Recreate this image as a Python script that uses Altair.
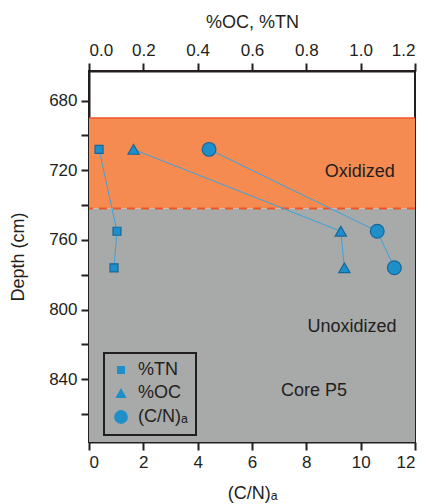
import altair as alt
import pandas as pd

# Sample depths (cm) for core P5
depth = [708, 755, 776]
tn = [0.037, 0.103, 0.092]        # %TN
oc = [0.164, 0.927, 0.940]        # %OC
cn = [4.42, 10.61, 11.24]         # (C/N)a

# Redox zones
zone_top = [690, 742]
zone_bottom = [742, 876]
zone_color = ["#F68B52", "#A8A9A9"]

# Zone annotations, placed on the (C/N)a scale
note_text = ["Oxidized", "Unoxidized", "Core P5"]
note_cn = [9.97, 9.68, 8.28]
note_depth = [721, 810, 847]

series_names = ["%TN", "%OC", "(C/N)ₐ"]
series_shapes = ["square", "triangle-up", "circle"]
series_sizes = [64, 190, 92]

FONT = "Liberation Sans"
FILL = "#1E8FC9"
EDGE = "#17679A"
LINE = "#3BA3DB"

rows = []
for name, vals in zip(series_names, [tn, oc, cn]):
    for d, v in zip(depth, vals):
        rows.append({"series": name, "depth": d, "value": v})
df = pd.DataFrame(rows)

zones = pd.DataFrame({"top": zone_top, "bottom": zone_bottom, "color": zone_color})
notes = pd.DataFrame({"text": note_text, "cn": note_cn, "depth": note_depth})

y_scale = alt.Scale(domain=[663, 876], reverse=True, nice=False, zero=False)
y_axis = alt.Axis(
    title="Depth (cm)",
    values=list(range(680, 861, 20)),
    labelExpr="datum.value % 40 == 0 ? datum.label : ''",
    titlePadding=21,
)

shape_scale = alt.Scale(domain=series_names, range=series_shapes)
size_scale = alt.Scale(domain=series_names, range=series_sizes)
legend = alt.Legend(
    title=None,
    orient="none",
    legendX=15,
    legendY=282,
    fillColor="#A8A9A9",
    strokeColor="#231F20",
    padding=8,
    labelFontSize=18,
    labelFont=FONT,
    labelColor="#231F20",
    labelOffset=8,
    rowPadding=5,
    symbolFillColor=FILL,
    symbolStrokeColor=EDGE,
    symbolStrokeWidth=1.2,
    symbolOpacity=1,
)

# --- upper scale: %OC and %TN -------------------------------------------
top_x_scale = alt.Scale(domain=[0, 1.2], nice=False, zero=False)
top_x_axis = alt.Axis(
    orient="top",
    title="%OC, %TN",
    values=[round(i * 0.1, 1) for i in range(13)],
    format=".1f",
    labelExpr="round(datum.value * 10) % 2 == 0 ? datum.label : ''",
    titlePadding=10,
)

bands = alt.Chart(zones).mark_rect().encode(
    y=alt.Y("top:Q", scale=y_scale, axis=y_axis),
    y2="bottom:Q",
    color=alt.Color("color:N", scale=None),
)
band_edge = alt.Chart(zones.iloc[[0]]).mark_rule(color="#F0552A", strokeWidth=1.5).encode(
    y=alt.Y("top:Q", scale=y_scale)
)
redox_line = alt.Chart(zones.iloc[[0]]).mark_rule(
    color="#F0552A", strokeWidth=2, strokeDash=[8, 6]
).encode(y=alt.Y("bottom:Q", scale=y_scale))

top_data = alt.Chart(df).transform_filter(
    alt.FieldOneOfPredicate(field="series", oneOf=["%TN", "%OC"])
)
top_lines = top_data.mark_line(color=LINE, strokeWidth=1).encode(
    x=alt.X("value:Q", scale=top_x_scale, axis=top_x_axis),
    y=alt.Y("depth:Q", scale=y_scale),
    detail="series:N",
    order="depth:Q",
)
top_points = top_data.mark_point(
    filled=True, fill=FILL, stroke=EDGE, strokeWidth=1.2, opacity=1
).encode(
    x=alt.X("value:Q", scale=top_x_scale),
    y=alt.Y("depth:Q", scale=y_scale),
    shape=alt.Shape("series:N", scale=shape_scale, legend=legend),
    size=alt.Size("series:N", scale=size_scale, legend=legend),
)

upper = alt.layer(bands, band_edge, redox_line, top_lines, top_points)

# --- lower scale: (C/N)a ------------------------------------------------
bottom_x_scale = alt.Scale(domain=[0, 12], nice=False, zero=False)
bottom_x_axis = alt.Axis(
    orient="bottom",
    title="(C/N)ₐ",
    values=list(range(0, 13)),
    labelExpr="datum.value % 2 == 0 ? datum.label : ''",
    titlePadding=14,
)

cn_data = alt.Chart(df).transform_filter(alt.datum.series == "(C/N)ₐ")
cn_line = cn_data.mark_line(color=LINE, strokeWidth=1).encode(
    x=alt.X("value:Q", scale=bottom_x_scale, axis=bottom_x_axis),
    y=alt.Y("depth:Q", scale=y_scale),
    order="depth:Q",
)
cn_points = cn_data.mark_point(
    filled=True, fill=FILL, stroke=EDGE, strokeWidth=1.2, opacity=1
).encode(
    x=alt.X("value:Q", scale=bottom_x_scale),
    y=alt.Y("depth:Q", scale=y_scale),
    shape=alt.Shape("series:N", scale=shape_scale, legend=legend),
    size=alt.Size("series:N", scale=size_scale, legend=legend),
)
cn_notes = alt.Chart(notes).mark_text(
    font=FONT, fontSize=18, color="#231F20", align="center", baseline="middle"
).encode(
    x=alt.X("cn:Q", scale=bottom_x_scale),
    y=alt.Y("depth:Q", scale=y_scale),
    text="text:N",
)

lower = alt.layer(cn_line, cn_points, cn_notes)

chart = (
    alt.layer(upper, lower)
    .resolve_scale(x="independent", shape="shared", size="shared")
    .properties(
        width=326,
        height=371,
        autosize=alt.AutoSizeParams(type="none"),
        padding={"left": 89, "top": 71, "right": 13, "bottom": 62},
        background="white",
    )
    .configure_view(stroke="#231F20", strokeWidth=2)
    .configure_axis(
        grid=False,
        domainColor="#231F20",
        domainWidth=2,
        tickColor="#231F20",
        tickWidth=2,
        tickSize=8,
        labelFont=FONT,
        labelFontSize=17,
        labelColor="#231F20",
        labelPadding=4,
        titleFont=FONT,
        titleFontSize=18,
        titleFontWeight="normal",
        titleColor="#231F20",
    )
    .configure_legend(strokeWidth=2)
)

chart.save("out.html", embed_options={"renderer": "svg", "actions": False})
